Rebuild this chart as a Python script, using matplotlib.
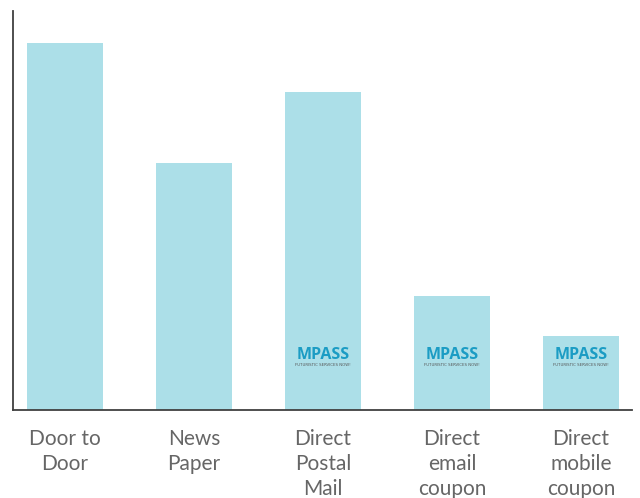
import numpy as np
import matplotlib.pyplot as plt

categories = ["Door to\nDoor", "News\nPaper", "Direct\nPostal\nMail", "Direct\nemail\ncoupon", "Direct\nmobile\ncoupon"]
values = [367, 247, 318, 114, 74]
has_logo = [False, False, True, True, True]

BAR = "#acdfe8"
TEXT = "#666666"
LOGO = "#1b9cc4"

fig = plt.figure(figsize=(6.4, 4.98), dpi=100)
ax = fig.add_axes([13 / 640, 88 / 498, 619 / 640, 399 / 498])

x = np.arange(len(categories))
ax.bar(x, values, width=0.59, color=BAR)

# small "MPASS" watermark on the last three bars
for xi, logo in zip(x, has_logo):
    if logo:
        ax.text(xi, 55, "MPASS", ha="center", va="center", fontsize=11.5,
                fontweight="bold", color=LOGO, family="Open Sans")
        ax.text(xi, 45.5, "FUTURISTIC SERVICES NOW!", ha="center", va="center",
                fontsize=2.8, color="#555555")

ax.set_xlim(-0.403, 4.395)
ax.set_ylim(0, 399)
ax.set_xticks(x)
ax.set_xticklabels(categories, fontsize=15, color=TEXT, family="Lato", linespacing=1.29)
ax.tick_params(axis="x", length=0, pad=14)
ax.set_yticks([])

for s in ["top", "right"]:
    ax.spines[s].set_visible(False)
for s in ["left", "bottom"]:
    ax.spines[s].set_color("#404040")
    ax.spines[s].set_linewidth(1.3)

fig.savefig("out.png", dpi=100)
